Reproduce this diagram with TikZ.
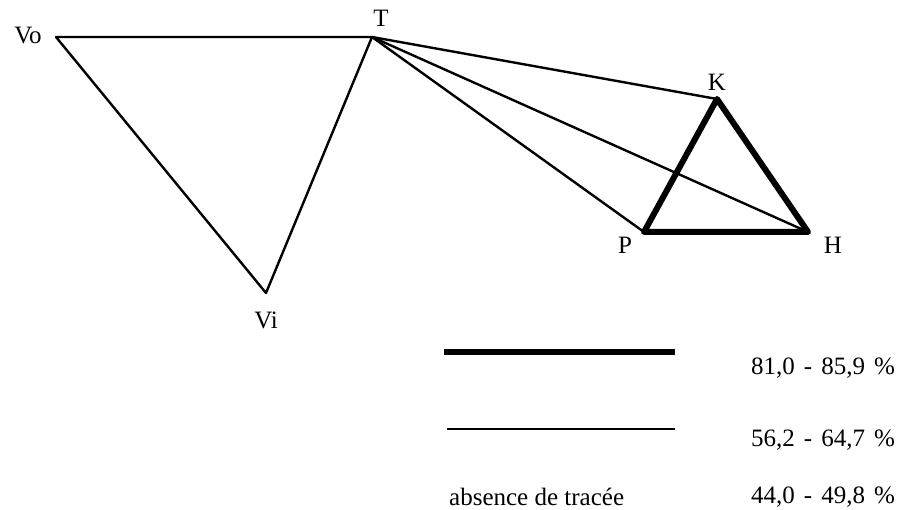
\documentclass[tikz,border=0pt]{standalone}
\usepackage{fontspec}
\setmainfont{Liberation Serif}

\begin{document}
\begin{tikzpicture}[x=1pt,y=-1pt,trait/.style={black,line width=2.4pt},fort/.style={black,line width=6pt,line cap=round},lab/.style={font=\fontsize{25}{29}\selectfont,inner sep=0pt},pct/.style={lab,anchor=west,execute at begin node={\spaceskip=9pt}}]
	\useasboundingbox (0,0) rectangle (904,510);
	% sommets
	\coordinate (Vo) at (56,37);
	\coordinate (T) at (372,37);
	\coordinate (Vi) at (266,293);
	\coordinate (K) at (717,99);
	\coordinate (P) at (644,232);
	\coordinate (H) at (808,232);
	\node[lab] (lVo) at (28,36) {Vo};
	\node[lab] (lT) at (381,18) {T};
	\node[lab] (lVi) at (266,320) {Vi};
	\node[lab] (lK) at (717,82) {K};
	\node[lab] (lP) at (625,245) {P};
	\node[lab] (lH) at (833,245) {H};
	% liaisons
	\draw[trait,line join=round] (Vo) -- (T) -- (Vi) -- cycle;
	\foreach \s in {K,H,P} \draw[trait] (T) -- (\s);
	\draw[fort,line join=round] (K) -- (H) -- (P) -- cycle;
	% legende
	\coordinate (a1) at (444,352);
	\coordinate (a2) at (675,352);
	\coordinate (b1) at (447,429);
	\coordinate (b2) at (675,429);
	\draw[black,line width=6pt] (a1) -- (a2);
	\draw[trait] (b1) -- (b2);
	\node[pct] (n1) at (751,368) {81,0 - 85,9 \%};
	\node[pct] (n2) at (751,440) {56,2 - 64,7 \%};
	\node[pct] (n3) at (751,497) {44,0 - 49,8 \%};
	\node[lab,anchor=west] (abs) at (449,497) {absence de tracée};
\end{tikzpicture}
\end{document}
